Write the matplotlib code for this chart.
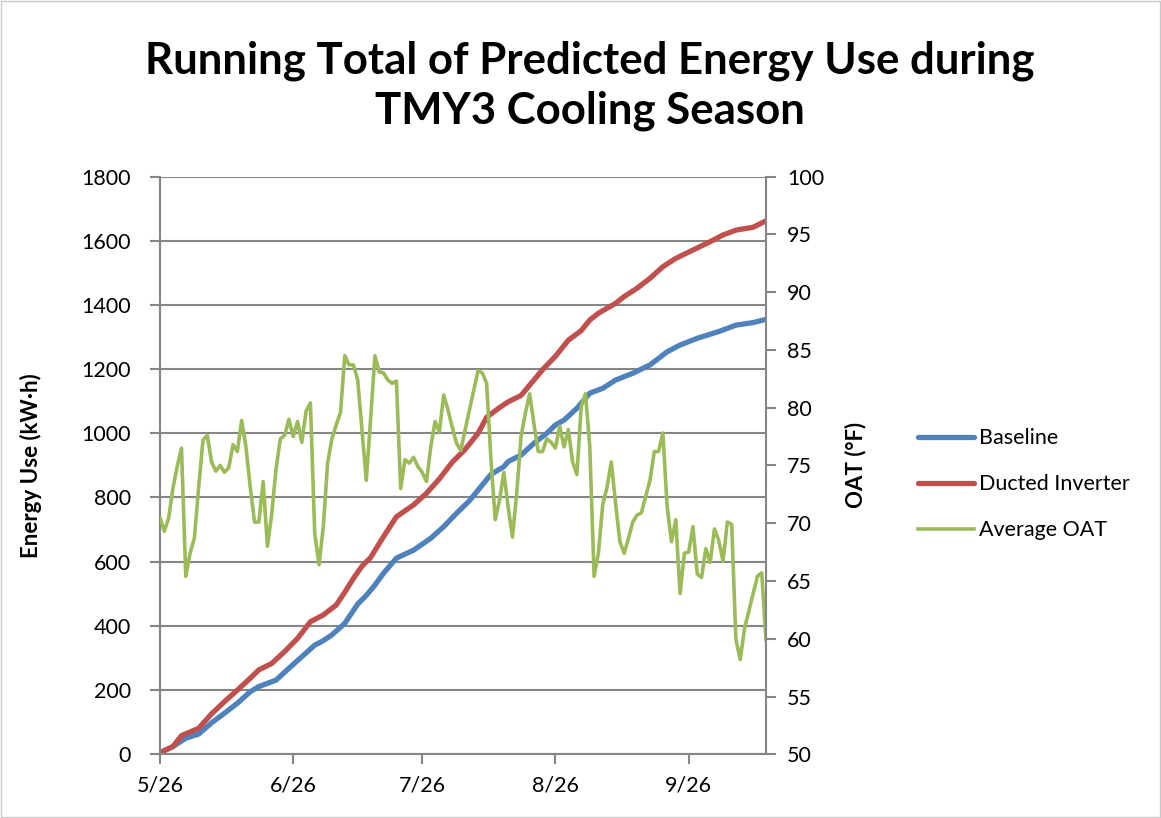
import pandas as pd
import matplotlib
matplotlib.use("Agg")
import matplotlib.pyplot as plt
from matplotlib.patches import Rectangle

plt.rcParams['font.family'] = ['Lato', 'DejaVu Sans']

start = pd.Timestamp("2013-05-26")

# daily average outdoor air temperature (F), from 5/26
oat = [70.5, 69.3, 70.4, 73.0, 74.9, 76.5, 65.4, 67.4, 68.7, 73.1,
       77.2, 77.6, 75.3, 74.5, 75.0, 74.4, 74.8, 76.8, 76.2, 78.9,
       76.6, 73.1, 70.1, 70.1, 73.6, 68.0, 70.8, 74.7, 77.3, 77.6,
       79.0, 77.5, 78.8, 77.0, 79.7, 80.4, 69.1, 66.4, 69.7, 75.2,
       77.3, 78.5, 79.6, 84.5, 83.7, 83.7, 82.4, 78.0, 73.7, 79.0,
       84.5, 83.1, 83.0, 82.4, 82.1, 82.3, 73.0, 75.5, 75.2, 75.7,
       74.9, 74.4, 73.6, 76.6, 78.8, 77.9, 81.1, 79.8, 78.3, 76.9,
       76.3, 78.1, 79.8, 81.5, 83.2, 83.0, 82.1, 75.5, 70.3, 72.0,
       74.4, 71.4, 68.8, 72.6, 77.5, 79.5, 81.2, 78.6, 76.2, 76.2,
       77.3, 77.0, 76.5, 78.4, 76.6, 78.1, 75.3, 74.2, 80.1, 81.2,
       76.6, 65.4, 67.4, 71.6, 73.1, 75.3, 71.7, 68.4, 67.4, 68.7,
       70.1, 70.7, 70.9, 72.3, 73.7, 76.2, 76.2, 77.8, 71.4, 68.4,
       70.3, 63.9, 67.4, 67.5, 69.7, 65.6, 65.3, 67.8, 66.6, 69.5,
       68.5, 66.7, 70.1, 69.9, 59.9, 58.2, 60.9, 62.4, 63.9, 65.4,
       65.7, 59.9]

# running totals (kWh), day offset from 5/26
baseline_days = [0, 3, 6, 9, 12, 15, 18, 21, 23, 27, 30, 33, 36, 38, 40,
                 43, 46, 48, 50, 52, 55, 59, 63, 66, 69, 72, 74, 77, 80,
                 81, 84, 87, 90, 92, 94, 97, 100, 103, 106, 110, 114, 118,
                 121, 125, 130, 134, 138, 141]
baseline_kwh = [5, 24, 50, 63, 98, 128, 159, 195, 211, 231, 268, 304, 340,
                354, 372, 408, 468, 495, 527, 564, 611, 636, 673, 709, 751,
                790, 823, 872, 896, 912, 932, 969, 1000, 1026, 1041, 1078,
                1125, 1140, 1166, 1187, 1213, 1254, 1275, 1296, 1317, 1337,
                1345, 1355]

inverter_days = [0, 3, 5, 9, 12, 15, 18, 21, 23, 26, 29, 32, 35, 38, 41,
                 43, 45, 47, 49, 52, 55, 59, 62, 65, 68, 71, 74, 76, 79, 81,
                 84, 86, 89, 92, 95, 98, 100, 102, 106, 108, 111, 114, 117,
                 120, 124, 128, 131, 134, 138, 141]
inverter_kwh = [5, 24, 58, 81, 126, 164, 200, 237, 263, 283, 320, 361, 413,
                434, 465, 505, 548, 586, 613, 678, 740, 777, 813, 858, 910,
                950, 1000, 1050, 1080, 1098, 1118, 1150, 1198, 1240, 1290,
                1320, 1353, 1374, 1405, 1426, 1452, 1483, 1519, 1545, 1571,
                1597, 1618, 1633, 1642, 1662]

tick_labels = ["5/26", "6/26", "7/26", "8/26", "9/26"]

oat_dates = pd.date_range(start, periods=len(oat), freq="D")
baseline_dates = start + pd.to_timedelta(baseline_days, unit="D")
inverter_dates = start + pd.to_timedelta(inverter_days, unit="D")
tick_dates = [pd.Timestamp("2013/" + t) for t in tick_labels]

grey = "#868686"

fig = plt.figure(figsize=(11.61, 8.18), dpi=100)
fig.patches.append(Rectangle((0.001, 0.001), 0.998, 0.998, transform=fig.transFigure,
                             fill=False, edgecolor="#c8c8c8", linewidth=1))
ax = fig.add_axes([0.1378, 0.0779, 0.5220, 0.7063])
ax2 = ax.twinx()

ax.plot(baseline_dates, baseline_kwh, color="#4F81BD", lw=3.8,
        solid_capstyle="round", solid_joinstyle="round", label="Baseline")
ax.plot(inverter_dates, inverter_kwh, color="#C0504D", lw=3.8,
        solid_capstyle="round", solid_joinstyle="round", label="Ducted Inverter")
ax2.plot(oat_dates, oat, color="#9BBB59", lw=2.6,
         solid_joinstyle="round", label="Average OAT")

ax.set_xlim(oat_dates[0], oat_dates[-1])
ax.set_ylim(0, 1800)
ax.set_yticks(range(0, 1801, 200))
ax2.set_ylim(50, 100)
ax2.set_yticks(range(50, 101, 5))
ax.set_xticks(tick_dates)
ax.set_xticklabels(tick_labels)

ax.grid(axis="y", color=grey, lw=1.5)
ax.set_axisbelow(True)
for a in (ax, ax2):
    for side in a.spines:
        a.spines[side].set_color(grey)
        a.spines[side].set_linewidth(1.5)
    a.spines["top"].set_visible(False)
    a.tick_params(colors=grey, labelcolor="black", labelsize=15.5, width=1.5, length=7)
ax.spines["right"].set_visible(False)
ax2.spines["left"].set_visible(False)
ax2.spines["bottom"].set_visible(False)
ax.tick_params(axis="y", pad=14)
ax.tick_params(axis="x", pad=8)
ax2.tick_params(axis="y", pad=8)

ax.set_ylabel("Energy Use (kW·h)", fontsize=16, fontweight="bold")
ax.yaxis.set_label_coords(-0.195, 0.5)
ax2.set_ylabel("OAT (°F)", fontsize=16, fontweight="bold", labelpad=15)

fig.text(0.508, 0.895, "Running Total of Predicted Energy Use during\nTMY3 Cooling Season",
         ha="center", va="center", fontsize=31.5, fontweight="bold", linespacing=1.3)

handles = ax.get_lines() + ax2.get_lines()
fig.legend(handles, [h.get_label() for h in handles], loc="center left",
           bbox_to_anchor=(0.774, 0.408), frameon=False, fontsize=15.5,
           handlelength=2.6, handletextpad=0.25, labelspacing=1.2)

fig.savefig("out.png", dpi=100)
